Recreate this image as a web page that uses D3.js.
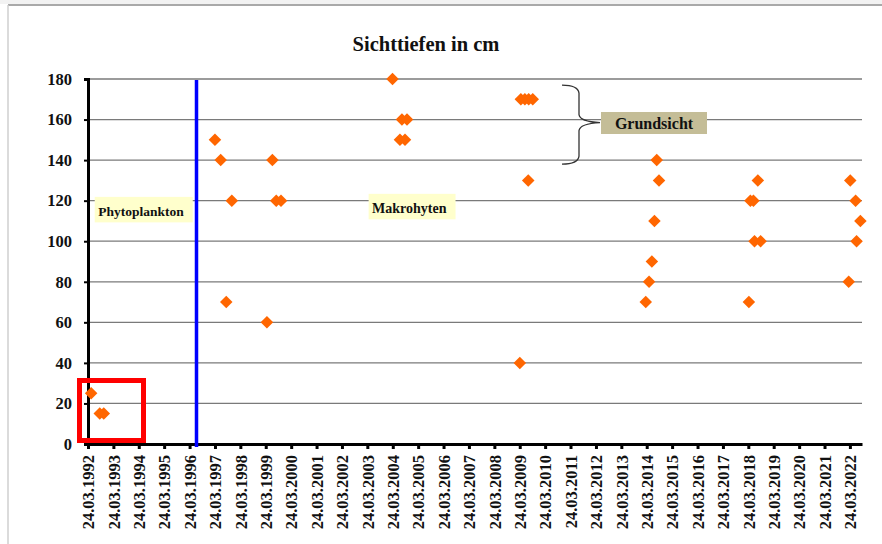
<!DOCTYPE html>
<html><head><meta charset="utf-8">
<script src="https://cdn.jsdelivr.net/npm/d3@7"></script>
<style>
html,body{margin:0;padding:0;background:#fff;}
svg{display:block;}
text{font-family:"Liberation Serif","Times New Roman",serif;font-weight:bold;fill:#111;}
</style></head>
<body><svg id="c" width="882" height="544"></svg>
<script>
// ---- data ----
const title = "Sichttiefen in cm";
const tickYears = d3.range(1992, 2023);
const yTicks = [0,20,40,60,80,100,120,140,160,180];
const dates = [
 "1992-05-08","1992-09-09","1992-11-06",
 "1997-03-24","1997-06-14","1997-09-02","1997-11-21",
 "1999-04-10","1999-06-28","1999-08-22","1999-10-30",
 "2004-03-20","2004-07-05","2004-08-03","2004-09-16","2004-10-15",
 "2009-03-25","2009-04-09","2009-06-06","2009-07-31","2009-09-27","2009-07-24",
 "2014-03-10","2014-04-27","2014-06-06","2014-07-13","2014-08-15","2014-09-17",
 "2018-04-01","2018-04-23","2018-06-06","2018-06-21","2018-08-08","2018-09-17",
 "2022-03-07","2022-03-29","2022-06-14","2022-06-28","2022-08-22"
];
const depths = [
 25,15,15,
 150,140,70,120,
 60,140,120,120,
 180,150,160,150,160,
 40,170,170,170,170,130,
 70,80,90,110,140,130,
 70,120,120,100,130,100,
 80,130,120,100,110
];
const dividerDate = "1996-07-01";
const labels = [
 {text:"Phytoplankton", date:"1992-08-18", value:112.5, size:13.5, fill:"#ffffcc"},
 {text:"Makrohyten", date:"2003-06-01", value:114, size:14, fill:"#ffffcc"}
];
const braceLabel = "Grundsicht";

// ---- layout ----
const svg = d3.select("#c");
const parse = d3.timeParse("%Y-%m-%d");
const x0 = parse("1992-03-24");
const x = d3.scaleTime().domain([x0, parse("2022-09-14")]).range([88, 862]);
const y = d3.scaleLinear().domain([0,180]).range([444, 79]);

// outer frame
svg.append("rect").attr("x",0).attr("y",0).attr("width",882).attr("height",4).attr("fill","#f2f2f2");
svg.append("line").attr("x1",8).attr("x2",882).attr("y1",5).attr("y2",5).attr("stroke","#8c8c8c").attr("stroke-width",1.5);
svg.append("line").attr("x1",8).attr("x2",8).attr("y1",5).attr("y2",544).attr("stroke","#cfcfcf").attr("stroke-width",1.5);

// title
svg.append("text").attr("x",426).attr("y",51).attr("text-anchor","middle").attr("font-size",20.5).text(title);

// gridlines
svg.append("g").selectAll("line").data(yTicks.filter(d=>d>0)).join("line")
 .attr("x1",88).attr("x2",862).attr("y1",d=>y(d)).attr("y2",d=>y(d))
 .attr("stroke","#7a7a7a").attr("stroke-width",1.3);

// y axis
const yAxis = d3.axisLeft(y).tickValues(yTicks).tickSize(4).tickPadding(12);
const gy = svg.append("g").attr("transform","translate(88,0)").call(yAxis);
gy.select(".domain").attr("stroke","#000").attr("stroke-width",3);
gy.selectAll(".tick line").attr("stroke","#000").attr("stroke-width",2);
gy.selectAll(".tick text").attr("font-size",16.5).attr("font-family","Liberation Serif").attr("font-weight","bold").attr("fill","#111");

// x axis
const tickDates = tickYears.map(yr => parse(yr+"-03-24"));
const xAxis = d3.axisBottom(x).tickValues(tickDates).tickSize(5).tickSizeOuter(0).tickFormat(d3.timeFormat("%d.%m.%Y"));
const gx = svg.append("g").attr("transform","translate(0,444)").call(xAxis);
gx.select(".domain").attr("stroke","#000").attr("stroke-width",3);
gx.selectAll(".tick line").attr("stroke","#000").attr("stroke-width",3);
gx.selectAll(".tick text").attr("font-size",16.5).attr("font-family","Liberation Serif").attr("font-weight","bold").attr("fill","#111")
 .attr("text-anchor","end").attr("transform","rotate(-90)").attr("x",-11).attr("y",0).attr("dy","0.35em");

// divider line
const dx = Math.round(x(parse(dividerDate))) + 0.5;
svg.append("line").attr("x1",dx).attr("x2",dx)
 .attr("y1",80).attr("y2",447).attr("stroke","#0000ff").attr("stroke-width",3.5);

// red highlight box
svg.append("rect").attr("x",79.5).attr("y",380.5).attr("width",64).attr("height",60)
 .attr("fill","none").attr("stroke","#ff0000").attr("stroke-width",5);

// region labels
labels.forEach(l=>{
  const g = svg.append("g");
  const tx = x(parse(l.date)), ty = y(l.value);
  const t = g.append("text").attr("x",tx).attr("y",ty).attr("font-size",l.size).text(l.text);
  const w = t.node().getComputedTextLength();
  g.insert("rect","text").attr("x",tx-3.5).attr("y",ty-19).attr("width",w+12.5).attr("height",25.5).attr("fill",l.fill);
});

// points
const pts = dates.map((d,i)=>({date:parse(d), v:depths[i]}));
const diamond = d3.symbol().type(d3.symbolDiamond2).size(100);
svg.append("g").selectAll("path").data(pts).join("path")
 .attr("transform",d=>`translate(${x(d.date)},${y(d.v)})`)
 .attr("d",diamond).attr("fill","#ff6600");

// brace
const bx = 562, byTop = y(177), byBot = y(138), byMid = y(158.5);
const brace = `M${bx},${byTop} Q${bx+16},${byTop} ${bx+17},${byTop+8} L${bx+17},${byMid-8} Q${bx+18},${byMid-1} ${bx+38},${byMid}
 Q${bx+18},${byMid+1} ${bx+17},${byMid+8} L${bx+17},${byBot-8} Q${bx+16},${byBot} ${bx},${byBot}`;
svg.append("path").attr("d",brace).attr("fill","none").attr("stroke","#333").attr("stroke-width",1.3);

// Grundsicht label
svg.append("rect").attr("x",601).attr("y",112).attr("width",106).attr("height",22).attr("fill","#c4bd97");
svg.append("text").attr("x",654).attr("y",128.5).attr("text-anchor","middle").attr("font-size",16).text(braceLabel);
</script></body></html>
